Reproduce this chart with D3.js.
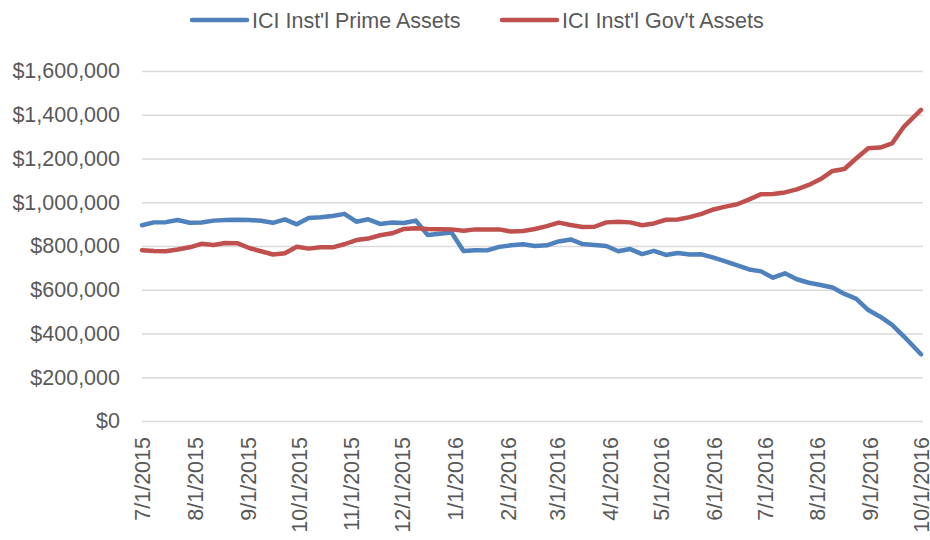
<!DOCTYPE html>
<html>
<head>
<meta charset="utf-8">
<script src="https://cdn.jsdelivr.net/npm/d3@7"></script>
<style>
  body { margin: 0; background: #fff; }
  text { font-family: "Liberation Sans", Arial, sans-serif; fill: #595959; }
</style>
</head>
<body>
<div id="chart"></div>
<script>
// weekly assets, $
const primeAssets = [
  895000, 908000, 909000, 919000, 906000, 907000, 916000, 919000, 920000, 919000,
  915000, 906000, 922000, 899000, 928000, 931000, 937000, 947000, 911000, 922000,
  901000, 907000, 905000, 916000, 850000, 856000, 862000, 777000, 781000, 780000,
  796000, 803000, 808000, 800000, 803000, 821000, 830000, 809000, 805000, 800000,
  776000, 786000, 763000, 778000, 759000, 768000, 761000, 762000, 747000, 730000,
  711000, 693000, 684000, 655000, 675000, 648000, 632000, 622000, 610000, 581000,
  558000, 507000, 477000, 439000, 386000, 305000
];
const govAssets = [
  781000, 777000, 776000, 784000, 794000, 810000, 805000, 814000, 813000, 791000,
  776000, 761000, 767000, 797000, 788000, 794000, 794000, 808000, 827000, 834000,
  849000, 858000, 878000, 881000, 878000, 877000, 876000, 870000, 876000, 876000,
  876000, 866000, 869000, 878000, 891000, 907000, 896000, 887000, 888000, 908000,
  911000, 908000, 895000, 903000, 920000, 921000, 932000, 947000, 967000, 980000,
  991000, 1013000, 1037000, 1038000, 1045000, 1059000, 1079000, 1106000, 1143000, 1152000,
  1201000, 1247000, 1250000, 1269000, 1346000, 1422000
];
const seriesNames = ["ICI Inst'l Prime Assets", "ICI Inst'l Gov't Assets"];
const seriesColors = ["#4F81BD", "#C0504D"];
const monthLabels = [
  "7/1/2015", "8/1/2015", "9/1/2015", "10/1/2015", "11/1/2015", "12/1/2015",
  "1/1/2016", "2/1/2016", "3/1/2016", "4/1/2016", "5/1/2016", "6/1/2016",
  "7/1/2016", "8/1/2016", "9/1/2016", "10/1/2016"
];
const yTicks = [0, 200000, 400000, 600000, 800000, 1000000, 1200000, 1400000, 1600000];

const parseDate = d3.timeParse("%m/%d/%Y");
const monthDates = monthLabels.map(parseDate);
const firstDate = parseDate("7/1/2015");
const lastDate = parseDate("10/1/2016");
// weekly observations, last one falls on the axis end
const dates = primeAssets.map((d, i) =>
  i === primeAssets.length - 1 ? lastDate : d3.timeWeek.offset(firstDate, i));

const width = 930, height = 540;
const svg = d3.select("#chart").append("svg")
  .attr("width", width)
  .attr("height", height);

const x = d3.scaleTime().domain([firstDate, lastDate]).range([142, 921]);
const y = d3.scaleLinear().domain([0, 1600000]).range([421, 71]);

// y axis + gridlines
const yAxis = svg.append("g")
  .attr("transform", "translate(142,0)")
  .call(d3.axisLeft(y).tickValues(yTicks).tickFormat(d3.format("$,")).tickSize(-781).tickPadding(22));
yAxis.select(".domain").remove();
yAxis.selectAll("line").attr("stroke", "#D9D9D9").attr("stroke-width", 1.3);
yAxis.selectAll("text").style("font-size", "21.5px").style("fill", "#595959");

// x axis labels (rotated)
const xAxis = svg.append("g")
  .attr("transform", "translate(0,421)")
  .call(d3.axisBottom(x).tickValues(monthDates).tickFormat((d, i) => monthLabels[i]).tickSize(0));
xAxis.select(".domain").remove();
xAxis.selectAll("text")
  .style("font-size", "21.5px")
  .style("fill", "#595959")
  .attr("text-anchor", "end")
  .attr("transform", "rotate(-90)")
  .attr("x", -16)
  .attr("y", 0)
  .attr("dy", "0.36em");

// lines
const line = d3.line()
  .x((d, i) => x(dates[i]))
  .y(d => y(d));

[primeAssets, govAssets].forEach((values, k) => {
  svg.append("path")
    .datum(values)
    .attr("fill", "none")
    .attr("stroke", seriesColors[k])
    .attr("stroke-width", 4.5)
    .attr("stroke-linejoin", "round")
    .attr("stroke-linecap", "round")
    .attr("d", line);
});

// legend
const legendX = [192, 502];
const legend = svg.selectAll(".legend")
  .data(seriesNames)
  .enter()
  .append("g")
  .attr("transform", (d, i) => `translate(${legendX[i]},20)`);

legend.append("line")
  .attr("x1", 0)
  .attr("x2", 55)
  .attr("stroke", (d, i) => seriesColors[i])
  .attr("stroke-width", 4.5)
  .attr("stroke-linecap", "round");

legend.append("text")
  .attr("x", 60)
  .attr("dy", "0.36em")
  .style("font-size", "21.5px")
  .text(d => d);
</script>
</body>
</html>
